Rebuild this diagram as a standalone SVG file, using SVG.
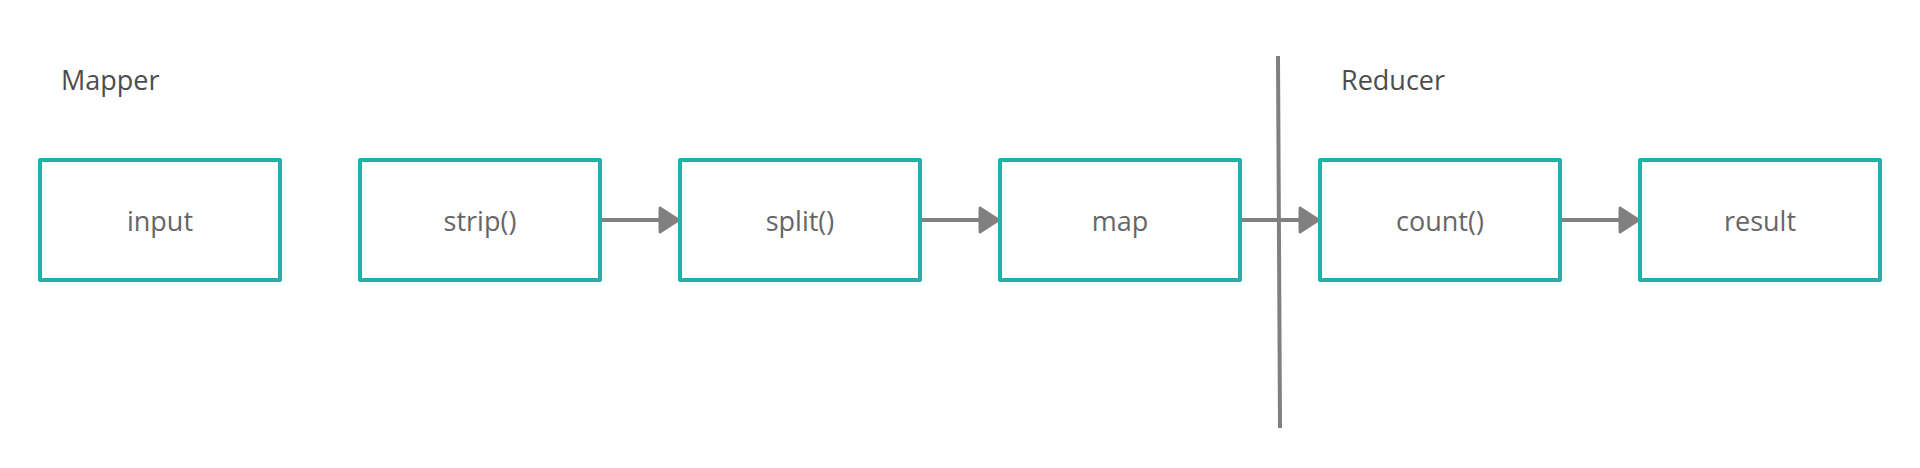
<svg xmlns="http://www.w3.org/2000/svg" width="1920" height="468" viewBox="0 0 1920 468">
<defs>
<style>
.box{fill:#ffffff;stroke:#20b2aa;stroke-width:4;stroke-linejoin:round}
.lbl{font-family:"Open Sans","Liberation Sans",sans-serif;font-size:27px;fill:#666666;text-anchor:middle}
.title{font-family:"Open Sans","Liberation Sans",sans-serif;font-size:27px;fill:#4d4d4d}
.conn{stroke:#808080;stroke-width:4;fill:none}
</style>
<marker id="arr" viewBox="-3 -16 26 32" markerWidth="26" markerHeight="32" refX="20" refY="0" markerUnits="userSpaceOnUse" orient="auto">
<path d="M0,-12 L18.5,0 L0,12 Z" fill="#808080" stroke="#808080" stroke-width="3" stroke-linejoin="round"/>
</marker>
</defs>
<rect width="1920" height="468" fill="#ffffff"/>
<text class="title" x="61" y="90">Mapper</text>
<text class="title" x="1341" y="90">Reducer</text>
<g id="connectors">
<line class="conn" x1="1278" y1="56" x2="1280" y2="428"/>
<line class="conn" x1="600" y1="220" x2="680" y2="220" marker-end="url(#arr)"/>
<line class="conn" x1="920" y1="220" x2="1000" y2="220" marker-end="url(#arr)"/>
<line class="conn" x1="1240" y1="220" x2="1320" y2="220" marker-end="url(#arr)"/>
<line class="conn" x1="1560" y1="220" x2="1640" y2="220" marker-end="url(#arr)"/>
</g>
<g id="input"><rect class="box" x="40" y="160" width="240" height="120"/><text class="lbl" x="160" y="231">input</text></g>
<g id="strip"><rect class="box" x="360" y="160" width="240" height="120"/><text class="lbl" x="480" y="231">strip()</text></g>
<g id="split"><rect class="box" x="680" y="160" width="240" height="120"/><text class="lbl" x="800" y="231">split()</text></g>
<g id="map"><rect class="box" x="1000" y="160" width="240" height="120"/><text class="lbl" x="1120" y="231">map</text></g>
<g id="count"><rect class="box" x="1320" y="160" width="240" height="120"/><text class="lbl" x="1440" y="231">count()</text></g>
<g id="result"><rect class="box" x="1640" y="160" width="240" height="120"/><text class="lbl" x="1760" y="231">result</text></g>
</svg>
